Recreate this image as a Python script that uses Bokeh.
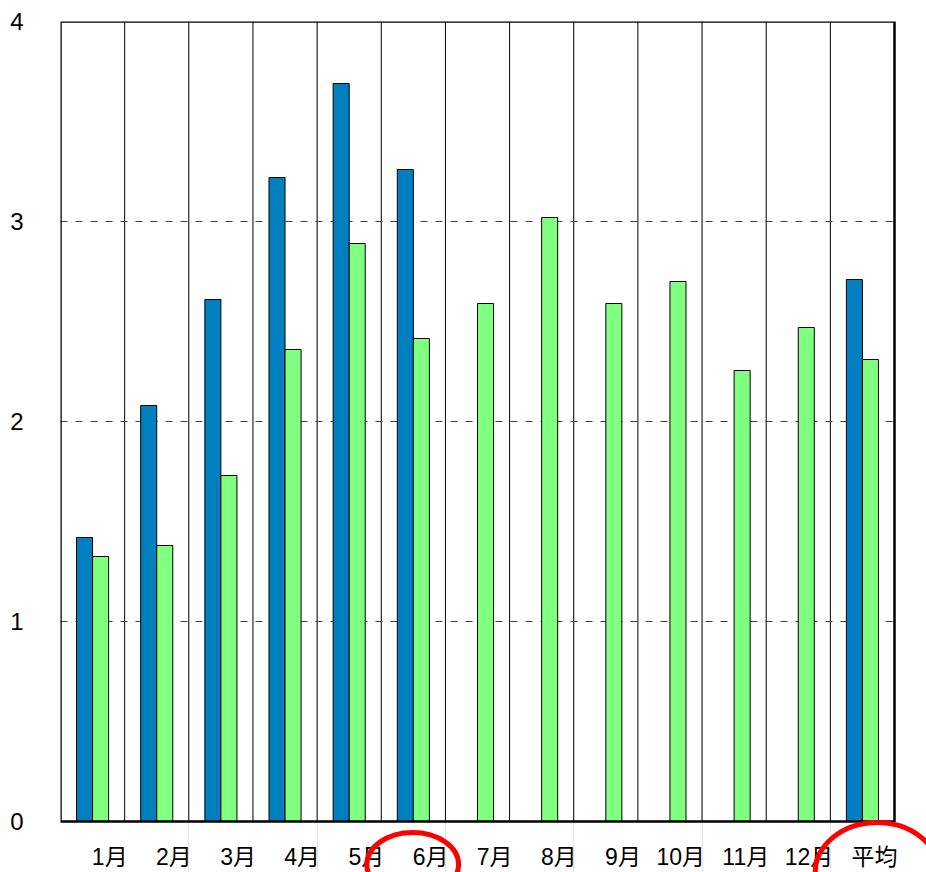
from bokeh.plotting import figure
from bokeh.models import Range1d, FixedTicker
from bokeh.core.properties import value
from bokeh.embed import file_html
from bokeh.resources import INLINE

# ---- data ----
categories = ["1月", "2月", "3月", "4月", "5月", "6月", "7月", "8月", "9月", "10月", "11月", "12月", "平均"]
series_blue = [1.42, 2.08, 2.61, 3.22, 3.69, 3.26, None, None, None, None, None, None, 2.71]
series_green = [1.325, 1.38, 1.73, 2.36, 2.89, 2.415, 2.59, 3.02, 2.59, 2.70, 2.255, 2.47, 2.31]
y_ticks = [0, 1, 2, 3, 4]
y_tick_labels = ["0", "1", "2", "3", "4"]
grid_values = [1, 2, 3]

# highlight ellipses (annotation, data units): centre x, centre y, width, height
highlights_x = [5.49, 12.73]
highlights_y = [-0.215, -0.255]
highlights_w = [1.43, 1.93]
highlights_h = [0.32, 0.50]

BLUE = "#0080C0"
GREEN = "#80FF80"
FONT = "Liberation Sans, Noto Sans CJK JP"
BAR_W = 0.25

n = len(categories)
Y_MAX = 4
PLOT_PX_W = 834          # pixel width of the boxed plot area
PX_PER_UNIT_Y = 200
FRAME_W = 866
FRAME_H = 851
x_end = n * FRAME_W / PLOT_PX_W
y_start = Y_MAX - FRAME_H / PX_PER_UNIT_Y

p = figure(frame_width=FRAME_W, frame_height=FRAME_H,
           x_range=Range1d(0, x_end), y_range=Range1d(y_start, Y_MAX),
           output_backend="svg", toolbar_location=None,
           x_axis_location=None,
           min_border_left=60, min_border_top=21, min_border_right=0, min_border_bottom=0)
p.background_fill_color = "white"
p.border_fill_color = "white"
p.outline_line_color = None
p.ygrid.grid_line_color = None

# category separators
sep = list(range(1, n))
p.segment(x0=sep, x1=sep, y0=[0] * len(sep), y1=[Y_MAX] * len(sep),
          line_color="black", line_width=1)
# dashed horizontal grid
p.segment(x0=[0] * len(grid_values), x1=[n] * len(grid_values), y0=grid_values, y1=grid_values,
          line_color="#404040", line_width=1, line_dash="7 8")

# bars
bx, btop = [], []
for i, v in enumerate(series_blue):
    if v is not None:
        bx.append(i + 0.5 - BAR_W / 2)
        btop.append(v)
gx, gtop = [], []
for i, v in enumerate(series_green):
    if v is not None:
        gx.append(i + 0.5 + BAR_W / 2)
        gtop.append(v)
p.vbar(x=bx, top=btop, bottom=0, width=BAR_W, fill_color=BLUE, line_color="black", line_width=1)
p.vbar(x=gx, top=gtop, bottom=0, width=BAR_W, fill_color=GREEN, line_color="black", line_width=1)

# plot-area box
p.quad(left=[0], right=[n], bottom=[0], top=[Y_MAX], fill_color=None,
       line_color="black", line_width=2.5)

# y axis
ax = p.yaxis[0]
ax.ticker = FixedTicker(ticks=y_ticks)
ax.major_label_overrides = {t: l for t, l in zip(y_ticks, y_tick_labels)}
ax.axis_line_color = None
ax.major_tick_line_color = None
ax.minor_tick_line_color = None
ax.major_tick_out = 0
ax.major_tick_in = 0
ax.major_label_standoff = 37
ax.major_label_text_font = FONT
ax.major_label_text_font_size = "24px"
ax.major_label_text_color = "black"

# x labels (right-aligned to each category's right edge)
p.text(x=[i + 1 for i in range(n)], y=[0] * n, text=categories,
       x_offset=3, y_offset=35,
       text_align="right", text_baseline="middle",
       text_font=value(FONT), text_font_size=value("23px"), text_color="black")

# red highlight ellipses
p.ellipse(x=highlights_x, y=highlights_y, width=highlights_w, height=highlights_h,
          fill_color=None, line_color="red", line_width=5)

open("out.html", "w").write(file_html(p, INLINE))
